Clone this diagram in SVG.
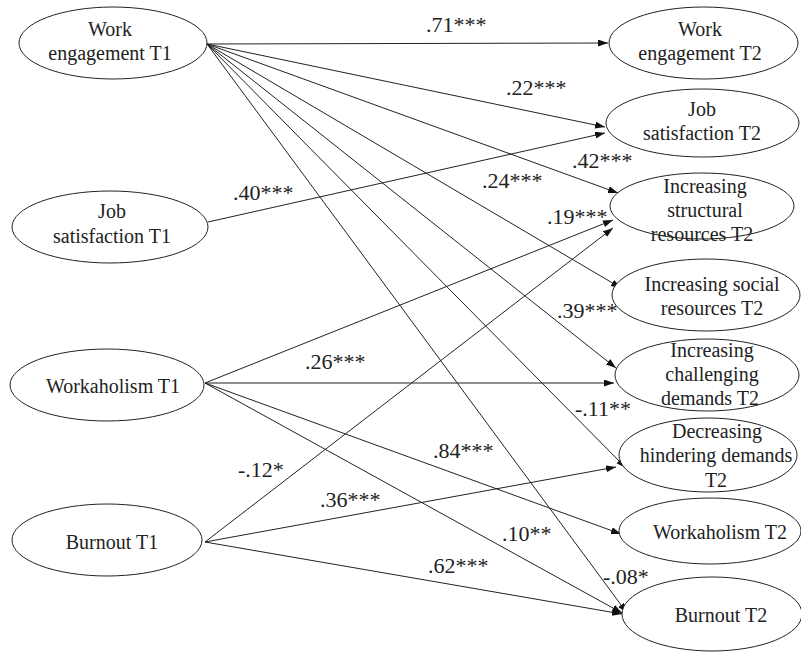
<svg xmlns="http://www.w3.org/2000/svg" width="801" height="652" viewBox="0 0 801 652">
<defs>
<marker id="arr" markerUnits="userSpaceOnUse" markerWidth="11" markerHeight="8" refX="10" refY="3.5" orient="auto">
<path d="M0,0 L10,3.5 L0,7 z" fill="#111"/>
</marker>
<style>
.n ellipse{fill:#fff;stroke:#222;stroke-width:1}
.n text{font-size:20px;fill:#222;text-anchor:middle}
.e line{stroke:#222;stroke-width:1;marker-end:url(#arr)}
.l text{font-size:22px;fill:#222}
</style>
</defs>
<rect width="801" height="652" fill="#fff"/>
<g class="e" id="connectors">
<line x1="207" y1="44" x2="608" y2="43"/>
<line x1="207" y1="44" x2="605" y2="127"/>
<line x1="207" y1="44" x2="618" y2="193"/>
<line x1="207" y1="44" x2="621" y2="288"/>
<line x1="207" y1="44" x2="616" y2="368"/>
<line x1="207" y1="44" x2="626" y2="468"/>
<line x1="207" y1="44" x2="627" y2="613"/>
<line x1="208" y1="222" x2="605" y2="133"/>
<line x1="205" y1="383" x2="613" y2="220"/>
<line x1="205" y1="383" x2="614" y2="383"/>
<line x1="205" y1="383" x2="621" y2="534"/>
<line x1="205" y1="383" x2="622" y2="613"/>
<line x1="205" y1="542" x2="613" y2="228"/>
<line x1="205" y1="542" x2="616" y2="467"/>
<line x1="205" y1="542" x2="622" y2="614"/>
</g>
<g font-family="Liberation Serif, serif">
<g class="n" id="we1"><ellipse cx="113" cy="43" rx="94" ry="36"/><text x="110" y="36">Work</text><text x="110" y="60">engagement T1</text></g>
<g class="n" id="js1"><ellipse cx="110" cy="227" rx="98" ry="36"/><text x="112" y="218">Job</text><text x="112" y="243">satisfaction T1</text></g>
<g class="n" id="wa1"><ellipse cx="107" cy="385" rx="97" ry="36"/><text x="113" y="393">Workaholism T1</text></g>
<g class="n" id="bo1"><ellipse cx="107" cy="540" rx="95" ry="36"/><text x="112" y="549">Burnout T1</text></g>
<g class="n" id="we2"><ellipse cx="703.5" cy="43" rx="94.5" ry="36"/><text x="700" y="36">Work</text><text x="700" y="60">engagement T2</text></g>
<g class="n" id="js2"><ellipse cx="702.5" cy="123" rx="96.5" ry="34"/><text x="702" y="116">Job</text><text x="702" y="140">satisfaction T2</text></g>
<g class="n" id="isr2"><ellipse cx="702" cy="206" rx="92" ry="33"/><text x="705" y="193">Increasing</text><text x="705" y="217">structural</text><text x="702" y="241">resources T2</text></g>
<g class="n" id="isoc2"><ellipse cx="706" cy="295" rx="94" ry="36"/><text x="712" y="291">Increasing social</text><text x="712" y="315">resources T2</text></g>
<g class="n" id="icd2"><ellipse cx="707" cy="375" rx="92" ry="36"/><text x="712" y="357">Increasing</text><text x="712" y="381">challenging</text><text x="710" y="405">demands T2</text></g>
<g class="n" id="dhd2"><ellipse cx="708" cy="455" rx="89" ry="37"/><text x="717" y="438">Decreasing</text><text x="716" y="462">hindering demands</text><text x="716" y="487">T2</text></g>
<g class="n" id="wa2"><ellipse cx="710" cy="531" rx="91" ry="33"/><text x="720" y="539">Workaholism T2</text></g>
<g class="n" id="bo2"><ellipse cx="712" cy="614" rx="90" ry="37"/><text x="721" y="622">Burnout T2</text></g>
<g class="l" id="labels">
<text x="426" y="32">.71***</text>
<text x="506" y="95">.22***</text>
<text x="572" y="168">.42***</text>
<text x="482" y="188">.24***</text>
<text x="547" y="224">.19***</text>
<text x="557" y="318">.39***</text>
<text x="305" y="369">.26***</text>
<text x="575" y="416">-.11**</text>
<text x="433" y="458">.84***</text>
<text x="238" y="477">-.12*</text>
<text x="320" y="507">.36***</text>
<text x="502" y="541">.10**</text>
<text x="428" y="573">.62***</text>
<text x="603" y="584">-.08*</text>
<text x="233" y="200">.40***</text>
</g>
</g>
</svg>
